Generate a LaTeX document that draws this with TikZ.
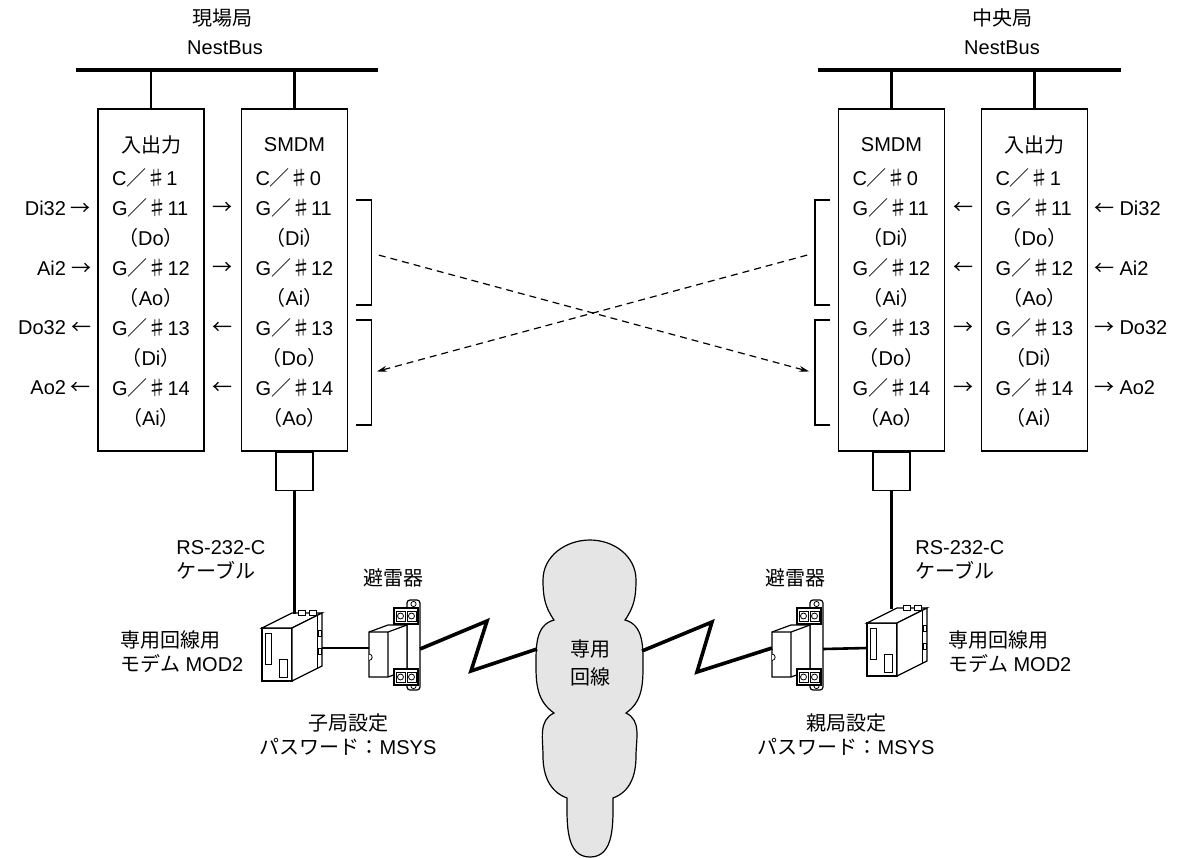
\documentclass[tikz,border=0pt]{standalone}
\usepackage{fontspec}
\setmainfont{Liberation Sans}
\newfontfamily\jp{Noto Sans CJK JP}
\usetikzlibrary{matrix,positioning,calc,arrows.meta}

\newcommand\gno[2]{#1{\jp ／♯}#2}
\newcommand\sig[1]{{\jp （}#1{\jp ）}}
\newcommand\rarr{{\jp →}}
\newcommand\larr{{\jp ←}}

\tikzset{
  unit/.style={matrix of nodes, draw, line width=0.6pt, inner xsep=7pt, inner ysep=9pt,
    nodes={text width=39pt, minimum height=15pt, inner sep=0pt, anchor=center, align=left},
    row 1/.style={nodes={align=center, minimum height=18pt}},
    every even row/.style={nodes={align=center}},
    row 2 column 1/.style={nodes={align=left}}},
  conn/.style={draw, line width=0.6pt, minimum width=18.5pt, minimum height=19pt, inner sep=0pt},
  bus/.style={line width=1.7pt},
  stub/.style={line width=1.4pt},
  cable/.style={line width=1.4pt},
  wire/.style={line width=1.3pt},
  zig/.style={line width=1.8pt, line join=miter},
  brk/.style={line width=0.6pt},
  link/.style={line width=0.6pt, dash pattern=on 3.5pt off 2.5pt,
    -{Stealth[length=5pt,width=3pt]}, shorten <=4pt, shorten >=3pt},
  tag/.style={inner sep=0pt},
  note/.style={inner sep=0pt, align=left},
  dev/.style={line width=0.6pt},
  part/.style={line width=0.4pt},
  cloud/.style={draw, line width=0.6pt, fill=gray!20},
  modem/.pic={
    \draw[dev, fill=white] (0,0) rectangle (30,53);
    \draw[dev, fill=white] (0,0) -- (30,-15) -- (60,-15) -- (30,0) -- cycle;
    \draw[dev, fill=white] (30,0) -- (60,-15) -- (60,38) -- (30,53) -- cycle;
    % front panel windows
    \draw[part] (3,5) rectangle (9,36) (17,31) rectangle (25,49);
    % side rail and top terminals
    \draw[part] (55,-12.5) -- (55,40.5);
    \draw[part] (56,2) rectangle (59,8) (56,20) rectangle (59,26);
    \draw[part, fill=white] (36,-18) rectangle (43,-13) (47,-18) rectangle (54,-13);
    \coordinate (-top) at (30,-14);
    \coordinate (-side) at (60,20);
    \coordinate (-front) at (0,25);
  },
  arrester/.pic={
    % mounting rail
    \draw[dev, fill=white, rounded corners=1.5pt] (38,-32) rectangle (51,58);
    \draw[part] (44.5,-28) circle[radius=1.3pt] (44.5,54) circle[radius=1.3pt];
    % body
    \draw[dev, fill=white] (0,0) -- (19,-7) -- (38,-7) -- (38,38) -- (19,45) -- (0,45) -- cycle;
    \draw[dev] (0,0) -- (19,0) -- (38,-7) (19,0) -- (19,45);
    \fill[white] (0,22) arc[start angle=90, end angle=-90, radius=1.6pt] -- cycle;
    \draw[part] (0,22) arc[start angle=90, end angle=-90, radius=1.6pt];
    % terminal blocks
    \foreach \y in {-24,37} {
      \draw[dev, fill=white] (25,\y) rectangle (49,\y+16);
      \draw[part] (27,\y+3) rectangle (36,\y+13) (38,\y+3) rectangle (47,\y+13);
      \draw[part] (31.5,\y+8) circle[radius=1.5pt] (42.5,\y+8) circle[radius=1.5pt];
    }
    \coordinate (-front) at (0,16);
    \coordinate (-back) at (51,17);
  }
}

\begin{document}
\begin{tikzpicture}[x=0.5pt, y=-0.5pt, font=\fontsize{10}{12}\selectfont]
  \useasboundingbox (0,0) rectangle (1186,857);

  % stations and their NestBus
  \node (lsite) at (222,18) {\jp 現場局};
  \node (lbusname) at (225,48) {NestBus};
  \node (rsite) at (1002,18) {\jp 中央局};
  \node (rbusname) at (1002,48) {NestBus};
  \coordinate (lbus-w) at (76,70);
  \coordinate (lbus-e) at (378,70);
  \coordinate (rbus-w) at (818,70);
  \coordinate (rbus-e) at (1121,70);
  \draw[bus] (lbus-w) -- (lbus-e);
  \draw[bus] (rbus-w) -- (rbus-e);

  % units on the bus
  \matrix (lio) [unit] at (151,280) {
    {\jp 入出力} \\ \gno{C}{1} \\ \gno{G}{11} \\ \sig{Do} \\ \gno{G}{12} \\ \sig{Ao} \\
    \gno{G}{13} \\ \sig{Di} \\ \gno{G}{14} \\ \sig{Ai} \\
  };
  \matrix (lsm) [unit] at (294.5,280) {
    SMDM \\ \gno{C}{0} \\ \gno{G}{11} \\ \sig{Di} \\ \gno{G}{12} \\ \sig{Ai} \\
    \gno{G}{13} \\ \sig{Do} \\ \gno{G}{14} \\ \sig{Ao} \\
  };
  \matrix (rsm) [unit] at (891.5,280) {
    SMDM \\ \gno{C}{0} \\ \gno{G}{11} \\ \sig{Di} \\ \gno{G}{12} \\ \sig{Ai} \\
    \gno{G}{13} \\ \sig{Do} \\ \gno{G}{14} \\ \sig{Ao} \\
  };
  \matrix (rio) [unit] at (1034.5,280) {
    {\jp 入出力} \\ \gno{C}{1} \\ \gno{G}{11} \\ \sig{Do} \\ \gno{G}{12} \\ \sig{Ao} \\
    \gno{G}{13} \\ \sig{Di} \\ \gno{G}{14} \\ \sig{Ai} \\
  };
  \foreach \u in {lio,lsm}
    \draw[stub] (\u.north) -- (\u.north |- lbus-w);
  \foreach \u in {rsm,rio}
    \draw[stub] (\u.north) -- (\u.north |- rbus-w);

  % signal directions
  \foreach \r in {3,5} {
    \node[tag] (lx\r) at ($(lio.east |- lio-\r-1)!.5!(lsm.west |- lsm-\r-1)$) {\rarr};
    \node[tag] (rx\r) at ($(rsm.east |- rsm-\r-1)!.5!(rio.west |- rio-\r-1)$) {\larr};
  }
  \foreach \r in {7,9} {
    \node[tag] (lx\r) at ($(lio.east |- lio-\r-1)!.5!(lsm.west |- lsm-\r-1)$) {\larr};
    \node[tag] (rx\r) at ($(rsm.east |- rsm-\r-1)!.5!(rio.west |- rio-\r-1)$) {\rarr};
  }
  \foreach \r/\t in {3/Di32, 5/Ai2} {
    \node[tag, anchor=east] (lin\r) at ([xshift=-3pt]lio.west |- lio-\r-1) {\t\kern2.5pt\rarr};
    \node[tag, anchor=west] (rin\r) at ([xshift=3pt]rio.east |- rio-\r-1) {\larr\kern2.5pt\t};
  }
  \foreach \r/\t in {7/Do32, 9/Ao2} {
    \node[tag, anchor=east] (lout\r) at ([xshift=-3pt]lio.west |- lio-\r-1) {\t\kern2.5pt\larr};
    \node[tag, anchor=west] (rout\r) at ([xshift=3pt]rio.east |- rio-\r-1) {\rarr\kern2.5pt\t};
  }

  % brackets beside the SMDM units
  \foreach \a/\b/\n in {3/6/1, 7/10/2} {
    \draw[brk] ([xshift=4pt,yshift=4pt]lsm.east |- lsm-\a-1) -- ++(7.5pt,0)
      |- ([xshift=4pt,yshift=-3.5pt]lsm.east |- lsm-\b-1);
    \draw[brk] ([xshift=-4pt,yshift=4pt]rsm.west |- rsm-\a-1) -- ++(-7.5pt,0)
      |- ([xshift=-4pt,yshift=-3.5pt]rsm.west |- rsm-\b-1);
    \coordinate (lb\n) at ($(lsm.east |- lsm-\a-1)!.5!(lsm.east |- lsm-\b-1) + (11.5pt,0)$);
    \coordinate (rb\n) at ($(rsm.west |- rsm-\a-1)!.5!(rsm.west |- rsm-\b-1) + (-11.5pt,0)$);
  }
  \draw[link] (lb1) -- (rb2);
  \draw[link] (rb1) -- (lb2);

  % RS-232-C ports and cables
  \node[conn, below=0pt of lsm] (lcn) {};
  \node[conn, below=0pt of rsm] (rcn) {};
  \node[note, anchor=west] (lrs) at (176,560) {RS-232-C\\{\jp ケーブル}};
  \node[note, anchor=west] (rrs) at (915,560) {RS-232-C\\{\jp ケーブル}};

  % leased line cloud
  \draw[cloud] (554,620) to[out=125,in=-90] (543,580) to[out=90,in=180] (590,540)
    to[out=0,in=90] (636,580) to[out=-90,in=55] (625,620)
    to[out=-15,in=90] (643,667) to[out=-90,in=35] (626,713)
    to[out=-25,in=90] (636,756) to[out=-90,in=20] (613,798)
    to[out=-90,in=0] (590,857) to[out=180,in=-90] (567,798)
    to[out=160,in=-90] (543,756) to[out=90,in=-155] (554,713)
    to[out=145,in=-90] (536,667) to[out=90,in=-165] (554,620) -- cycle;
  \node[note, align=center] (line) at (590,663) {{\jp 専用}\\[2pt]{\jp 回線}};
  \coordinate (cw) at (537,649);
  \coordinate (ce) at (642,651);

  % modems and surge arresters
  \pic (lm) at (262,628) {modem};
  \pic (la) at (369,632) {arrester};
  \pic (ra) at (772,632) {arrester};
  \pic (rm) at (867,623) {modem};
  \draw[cable] (lcn.south) -- (lcn.south |- lm-top);
  \draw[cable] (rcn.south) -- (rcn.south |- rm-top);
  \draw[wire] (lm-side) -- (la-front);
  \draw[wire] (ra-back) -- (rm-front);
  \draw[zig] (la-back) -- ++(67,-28) -- ++(-16,50) -- (cw);
  \draw[zig] (ce) -- ++(70,-29) -- ++(-15,50) -- (ra-front);

  \node (lsa) at (393,578) {\jp 避雷器};
  \node (rsa) at (795,578) {\jp 避雷器};
  \node[note, anchor=west] (lmd) at (120,652) {{\jp 専用回線用}\\{\jp モデム} MOD2};
  \node[note, anchor=west] (rmd) at (948,652) {{\jp 専用回線用}\\{\jp モデム} MOD2};
  \node[note, align=center] (lset) at (348,735) {{\jp 子局設定}\\{\jp パスワード：}MSYS};
  \node[note, align=center] (rset) at (846,735) {{\jp 親局設定}\\{\jp パスワード：}MSYS};
\end{tikzpicture}
\end{document}
